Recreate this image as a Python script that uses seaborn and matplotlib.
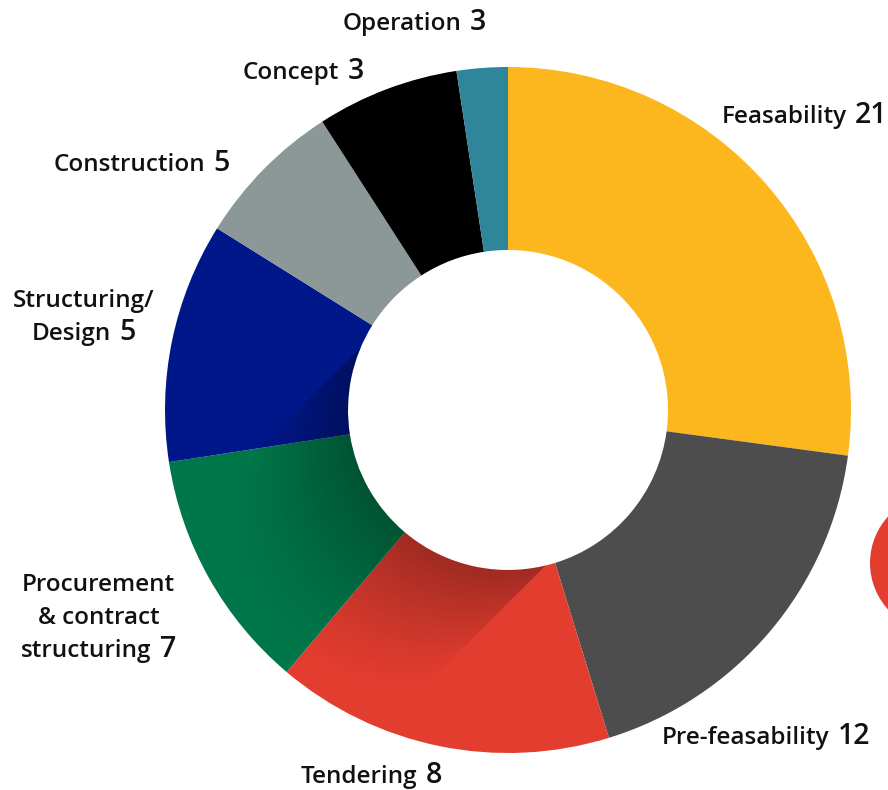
#!/usr/bin/env python3
"""
Donut chart: projects by stage.

Writes `out.png` (888x790 px).
"""

from __future__ import annotations

import matplotlib

matplotlib.use("Agg")

import matplotlib.pyplot as plt
import numpy as np
import seaborn as sns
from matplotlib.patches import Circle, Wedge

# stages, clockwise from 12 o'clock
stages = [
    "Feasability",
    "Pre-feasability",
    "Tendering",
    "Procurement\n& contract\nstructuring",
    "Structuring/\nDesign",
    "Construction",
    "Concept",
    "Operation",
]
# count shown next to each label
counts = [21, 12, 8, 7, 5, 5, 3, 3]
# slice share (%) as drawn in the source graphic
shares = [27.1, 18.1, 15.9, 11.4, 11.3, 7.0, 6.7, 2.4]
colors = ["#FDB71E", "#4D4D4D", "#E33D30", "#00774A", "#00178A", "#8C9898", "#000000", "#2F8599"]

W, H = 888, 790
CX, CY = 508, 410  # pixel coords, y down
R_OUT, R_IN = 343, 160

# label anchors (pixel coords): left x and baseline y of the last line
label_pos = [
    (722, 123),
    (662, 744),
    (301, 783),
    (21, 657),
    (32, 340),
    (54, 171),
    (243, 79),
    (343, 30),
]
line_step = 33
GAP = 8
FONT = ["Open Sans", "DejaVu Sans"]


def _shadow(ax) -> None:
    # soft shadow cast by the hole towards the lower left
    yy, xx = np.mgrid[0:H, 0:W] + 0.5
    px, py = xx - CX, yy - CY
    along = (-px + py) / np.sqrt(2)
    s = (px + py) / np.sqrt(2)
    in_strip = (s > -149) & (s < 136)
    edge = np.sqrt(np.clip(R_IN**2 - s**2, 0, None))
    d = np.clip(along - edge, 0, None)
    alpha = 0.3 * np.clip(1 - d / 170, 0, 1) ** 1.4
    alpha[~in_strip] = 0
    alpha[along - edge < -5] = 0
    rgba = np.zeros((H, W, 4))
    rgba[..., 3] = alpha
    im = ax.imshow(rgba, extent=(0, W, 0, H), origin="upper", interpolation="bilinear", zorder=2)
    ring = Wedge((CX, H - CY), R_OUT, 0, 360, width=R_OUT - R_IN, transform=ax.transData)
    im.set_clip_path(ring)


def _labels(fig, ax) -> None:
    renderer = fig.canvas.get_renderer()
    word_kw = dict(fontsize=17.5, fontweight="semibold", color="#111111", va="baseline")
    num_kw = dict(fontsize=20.5, fontweight="semibold", color="#111111", va="baseline", ha="left")
    for name, n, (xl, yb) in zip(stages, counts, label_pos):
        lines = name.split("\n")
        last = ax.text(xl, H - yb, lines[-1], ha="left", **word_kw)
        x_end = last.get_window_extent(renderer).x1
        num = ax.text(x_end + GAP, H - yb, str(n), **num_kw)
        xc = (xl + num.get_window_extent(renderer).x1) / 2
        for i, line in enumerate(lines[:-1]):
            y = yb - (len(lines) - 1 - i) * line_step
            ax.text(xc, H - y, line, ha="center", **word_kw)


def main() -> None:
    sns.set_theme(style="white")
    plt.rcParams["font.family"] = FONT

    fig = plt.figure(figsize=(W / 100, H / 100), dpi=100)
    ax = fig.add_axes([0, 0, 1, 1])

    ax.pie(
        shares,
        colors=colors,
        startangle=90,
        counterclock=False,
        center=(CX, H - CY),
        radius=R_OUT,
        wedgeprops={"width": R_OUT - R_IN, "linewidth": 0, "antialiased": True},
    )
    _shadow(ax)

    # decorative red disc cut by the right edge
    ax.add_patch(Circle((939, H - 563), 69, color="#E33D30", lw=0, zorder=1))

    ax.set_xlim(0, W)
    ax.set_ylim(0, H)
    ax.set_aspect("equal")
    ax.axis("off")

    _labels(fig, ax)

    fig.savefig("out.png", dpi=100, facecolor="white")
    plt.close(fig)


if __name__ == "__main__":
    main()
